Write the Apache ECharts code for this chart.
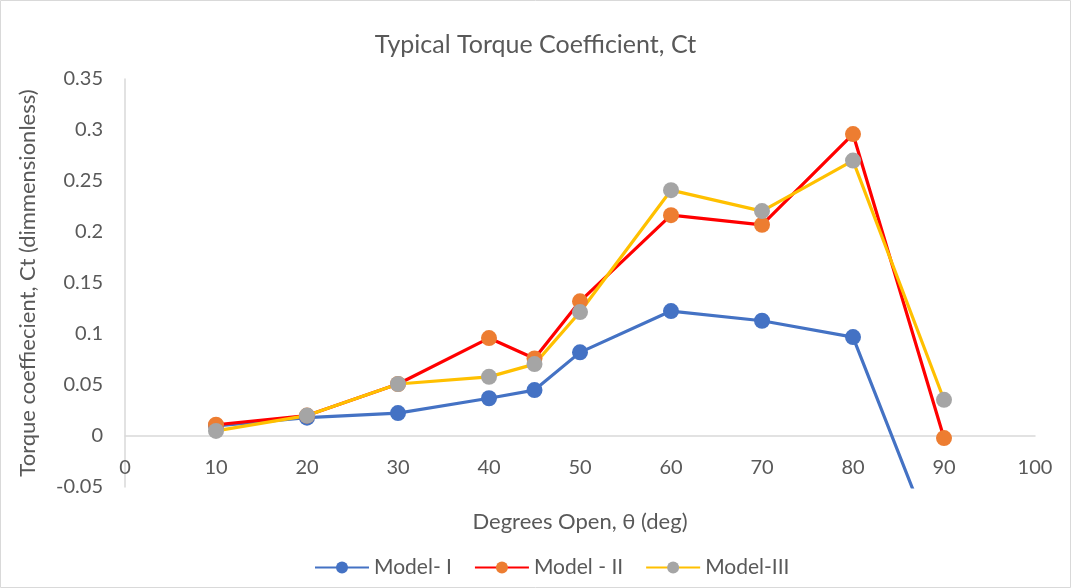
<!DOCTYPE html>
<html>
<head>
<meta charset="utf-8">
<script src="https://cdn.jsdelivr.net/npm/echarts@6/dist/echarts.min.js"></script>
<style>
html, body { margin: 0; padding: 0; background: #fff; }
#chart { width: 1071px; height: 588px; }
</style>
</head>
<body>
<div id="chart"></div>
<script>
var degrees = [10, 20, 30, 40, 45, 50, 60, 70, 80, 90];
var model1 = [0.010, 0.018, 0.0225, 0.037, 0.045, 0.082, 0.1225, 0.113, 0.097, -0.13];
var model2 = [0.011, 0.020, 0.051, 0.096, 0.076, 0.132, 0.2165, 0.207, 0.296, -0.002];
var model3 = [0.005, 0.020, 0.051, 0.058, 0.0705, 0.1215, 0.241, 0.2205, 0.270, 0.0355];

function pairs(ys) {
    return degrees.map(function (x, i) { return [x, ys[i]]; });
}

var textColor = '#595959';
var font = 'Lato, "Liberation Sans", sans-serif';

var chart = echarts.init(document.getElementById('chart'));
chart.setOption({
    animation: false,
    textStyle: { fontFamily: font },
    title: {
        text: 'Typical Torque Coefficient, Ct',
        left: 'center',
        top: 27,
        textStyle: { fontFamily: font, fontSize: 25, fontWeight: 'normal', color: textColor }
    },
    graphic: [{
        type: 'rect',
        shape: { x: 0.5, y: 0.5, width: 1070, height: 587 },
        style: { fill: 'none', stroke: '#d9d9d9', lineWidth: 1 },
        silent: true
    }],
    legend: {
        bottom: 5,
        left: 309,
        itemWidth: 54,
        itemHeight: 15,
        itemGap: 22,
        textStyle: { fontFamily: font, fontSize: 21, color: textColor },
        data: ['Model- I', 'Model - II', 'Model-III']
    },
    grid: { left: 125, right: 36, top: 79, bottom: 101 },
    xAxis: {
        type: 'value',
        min: 0,
        max: 100,
        interval: 10,
        name: 'Degrees Open, θ (deg)',
        nameLocation: 'middle',
        nameGap: 24,
        nameTextStyle: { fontFamily: font, fontSize: 22, color: textColor },
        axisLine: { onZero: true, lineStyle: { color: '#d9d9d9', width: 1.5 } },
        axisTick: { show: false },
        splitLine: { show: false },
        axisLabel: { fontFamily: font, fontSize: 20, color: textColor, margin: -29 }
    },
    yAxis: {
        type: 'value',
        min: -0.05,
        max: 0.35,
        interval: 0.05,
        name: 'Torque coeffiecient, Ct (dimmensionless)',
        nameLocation: 'middle',
        nameGap: 86,
        nameTextStyle: { fontFamily: font, fontSize: 22, color: textColor },
        axisLine: { show: true, lineStyle: { color: '#d9d9d9', width: 1.5 } },
        axisTick: { show: false },
        splitLine: { show: false },
        axisLabel: { fontFamily: font, fontSize: 20, color: textColor, margin: 22 }
    },
    series: [{
        name: 'Model- I',
        type: 'line',
        data: pairs(model1),
        symbol: 'circle',
        symbolSize: 16,
        lineStyle: { color: '#4472C4', width: 3.2 },
        itemStyle: { color: '#4472C4' }
    }, {
        name: 'Model - II',
        type: 'line',
        data: pairs(model2),
        symbol: 'circle',
        symbolSize: 16,
        lineStyle: { color: '#FF0000', width: 3.2 },
        itemStyle: { color: '#ED7D31' }
    }, {
        name: 'Model-III',
        type: 'line',
        data: pairs(model3),
        symbol: 'circle',
        symbolSize: 16,
        lineStyle: { color: '#FFC000', width: 3.2 },
        itemStyle: { color: '#A5A5A5' }
    }]
});
</script>
</body>
</html>
